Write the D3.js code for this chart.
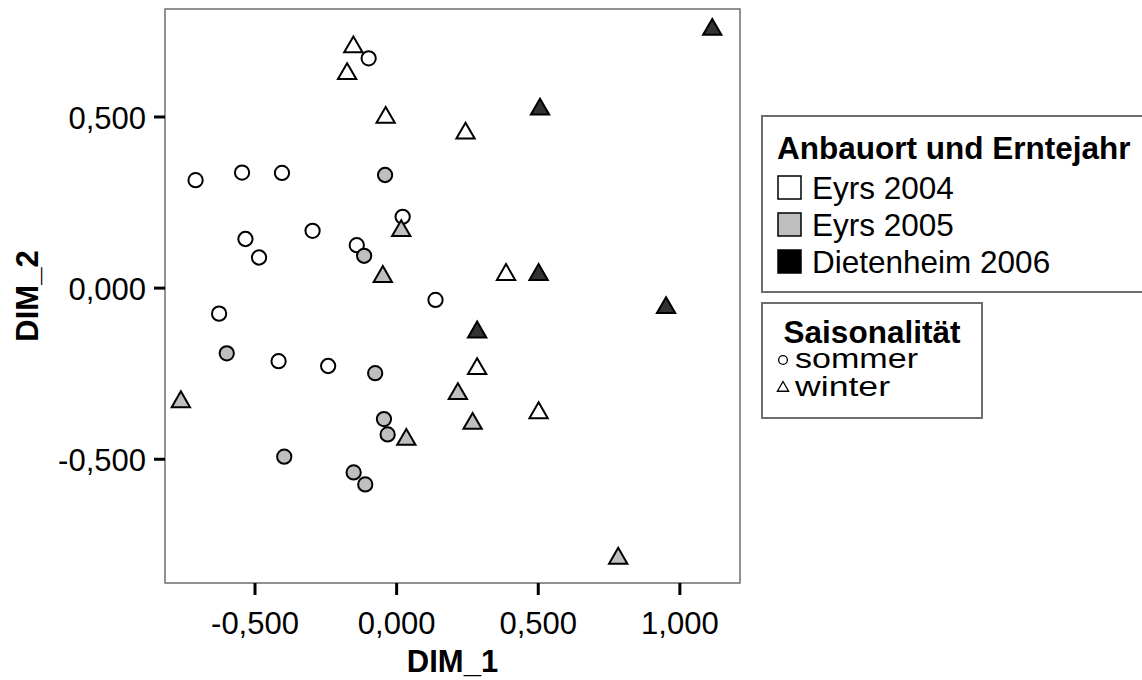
<!DOCTYPE html>
<html>
<head>
<meta charset="utf-8">
<script src="https://cdn.jsdelivr.net/npm/d3@7"></script>
<style>
  body { margin: 0; background: #fff; }
  svg { font-family: Arial, "Liberation Sans", sans-serif; }
</style>
</head>
<body>
<svg id="chart" width="1142" height="680"></svg>
<script>
// DIM_1 / DIM_2 coordinates
var eyrs2004Sommer = [
  [-0.097, 0.670], [-0.708, 0.314], [-0.544, 0.336], [-0.403, 0.335],
  [0.023, 0.207], [-0.532, 0.142], [-0.295, 0.166], [-0.139, 0.124],
  [-0.484, 0.088], [0.139, -0.036], [-0.625, -0.076], [-0.415, -0.215],
  [-0.240, -0.229]
]
var eyrs2004Winter = [
  [-0.151, 0.703], [-0.173, 0.625], [-0.037, 0.497], [0.245, 0.451],
  [0.388, 0.038], [0.286, -0.237], [0.503, -0.366]
]
var eyrs2005Sommer = [
  [-0.039, 0.329], [-0.113, 0.093], [-0.598, -0.192], [-0.074, -0.250],
  [-0.043, -0.384], [-0.030, -0.429], [-0.395, -0.494], [-0.150, -0.540],
  [-0.109, -0.575]
]
var eyrs2005Winter = [
  [0.018, 0.166], [-0.047, 0.032], [-0.760, -0.334], [0.036, -0.444],
  [0.218, -0.310], [0.270, -0.397], [0.784, -0.791]
]
var dietenheim2006Winter = [
  [1.116, 0.754], [0.508, 0.521], [0.503, 0.038], [0.953, -0.059],
  [0.286, -0.130]
]

var groups = ['Eyrs 2004', 'Eyrs 2005', 'Dietenheim 2006']
var seasons = ['sommer', 'winter']
var xTicks = [-0.5, 0, 0.5, 1]
var yTicks = [-0.5, 0, 0.5]

var series = [
  { group: 0, season: 0, data: eyrs2004Sommer },
  { group: 0, season: 1, data: eyrs2004Winter },
  { group: 1, season: 0, data: eyrs2005Sommer },
  { group: 1, season: 1, data: eyrs2005Winter },
  { group: 2, season: 1, data: dietenheim2006Winter }
]

var markFill = ['#ffffff', '#bfbfbf', '#333333']
var legendFill = ['#ffffff', '#bfbfbf', '#000000']

var plotL = 165, plotR = 740, plotT = 9, plotB = 583
var svg = d3.select('#chart')

var xScale = d3.scaleLinear().domain([-0.816, 1.214]).range([plotL, plotR])
var yScale = d3.scaleLinear().domain([-0.863, 0.814]).range([plotB, plotT])
var fmt = function(v) { return d3.format('.3f')(v).replace('.', ',').replace('−', '-') }

// frame
svg.append('rect')
  .attr('x', plotL).attr('y', plotT)
  .attr('width', plotR - plotL).attr('height', plotB - plotT)
  .style('fill', 'none').style('stroke', '#6e6e6e').style('stroke-width', 1.5)

var xAxis = svg.append('g')
  .attr('transform', 'translate(0,' + plotB + ')')
  .call(d3.axisBottom(xScale).tickValues(xTicks).tickFormat(fmt).tickSize(12).tickPadding(8))
var yAxis = svg.append('g')
  .attr('transform', 'translate(' + plotL + ',0)')
  .call(d3.axisLeft(yScale).tickValues(yTicks).tickFormat(fmt).tickSize(11).tickPadding(8))

;[xAxis, yAxis].forEach(function(a) {
  a.select('.domain').remove()
  a.selectAll('line').style('stroke', '#000').style('stroke-width', 3)
  a.selectAll('text').style('font-size', '31px').style('fill', '#000')
    .style('font-family', 'Arial, "Liberation Sans", sans-serif')
})
xAxis.selectAll('text').attr('dy', '1.0em')
yAxis.selectAll('text').attr('dy', '0.38em')

svg.append('text')
  .attr('x', (plotL + plotR) / 2).attr('y', 672)
  .style('text-anchor', 'middle').style('font-size', '31px').style('font-weight', 'bold')
  .text('DIM_1')
svg.append('text')
  .attr('transform', 'translate(38,' + ((plotT + plotB) / 2) + ') rotate(-90)')
  .style('text-anchor', 'middle').style('font-size', '31px').style('font-weight', 'bold')
  .text('DIM_2')

var circle = d3.symbol().type(d3.symbolCircle).size(160)
var triangle = d3.symbol().type(d3.symbolTriangle).size(145)

series.forEach(function(s) {
  svg.append('g').selectAll('path')
    .data(s.data)
    .enter()
    .append('path')
    .attr('d', s.season === 0 ? circle : triangle)
    .attr('transform', function(d) { return 'translate(' + xScale(d[0]) + ',' + yScale(d[1]) + ')' })
    .style('fill', markFill[s.group])
    .style('stroke', '#000')
    .style('stroke-width', 2)
})

// legend 1: Anbauort und Erntejahr
var lg1 = svg.append('g')
lg1.append('rect')
  .attr('x', 762).attr('y', 116).attr('width', 400).attr('height', 176)
  .style('fill', '#fff').style('stroke', '#6e6e6e').style('stroke-width', 2)
lg1.append('text')
  .attr('x', 777).attr('y', 159)
  .style('font-size', '31.5px').style('font-weight', 'bold')
  .text('Anbauort und Erntejahr')
groups.forEach(function(g, i) {
  var y = 199 + i * 37
  lg1.append('rect')
    .attr('x', 778).attr('y', y - 23).attr('width', 23).attr('height', 23)
    .style('fill', legendFill[i]).style('stroke', '#000').style('stroke-width', 1.5)
  lg1.append('text')
    .attr('x', 812).attr('y', y)
    .style('font-size', '31.5px')
    .text(g)
})

// legend 2: Saisonalität
var lg2 = svg.append('g')
lg2.append('rect')
  .attr('x', 762).attr('y', 303).attr('width', 220).attr('height', 115)
  .style('fill', '#fff').style('stroke', '#6e6e6e').style('stroke-width', 2)
lg2.append('text')
  .attr('x', 872).attr('y', 343)
  .style('text-anchor', 'middle').style('font-size', '31.5px').style('font-weight', 'bold')
  .text('Saisonalität')
var smallSym = [d3.symbol().type(d3.symbolCircle).size(60), d3.symbol().type(d3.symbolTriangle).size(55)]
var seasonWidth = [123, 95]
seasons.forEach(function(s, i) {
  var y = 368 + i * 28
  lg2.append('path')
    .attr('d', smallSym[i])
    .attr('transform', 'translate(783,' + (y - 8) + ')')
    .style('fill', '#fff').style('stroke', '#000').style('stroke-width', 1.3)
  lg2.append('text')
    .attr('x', 795).attr('y', y)
    .attr('textLength', seasonWidth[i]).attr('lengthAdjust', 'spacingAndGlyphs')
    .style('font-size', '27px')
    .text(s)
})
</script>
</body>
</html>
